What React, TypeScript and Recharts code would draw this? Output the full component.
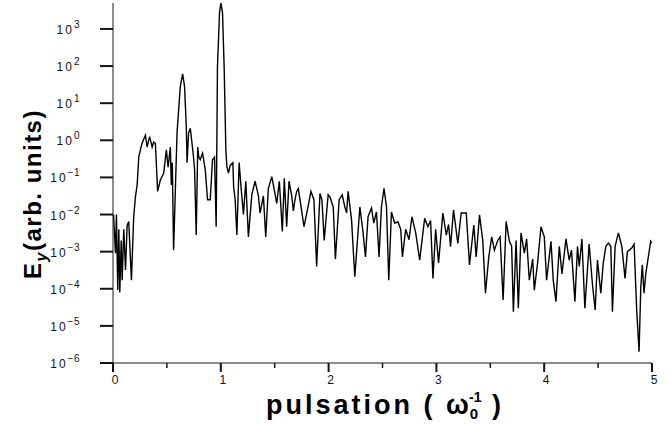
import React from 'react';
import { LineChart, Line, XAxis, YAxis } from 'recharts';

// pulsation (ω0^-1)
const freq = [
  0.005, 0.023, 0.032, 0.044, 0.054, 0.063, 0.076, 0.085, 0.100, 0.116,
  0.131, 0.146, 0.171, 0.192, 0.208, 0.224, 0.239, 0.254, 0.270, 0.301,
  0.316, 0.340, 0.363, 0.377, 0.393, 0.414, 0.439, 0.470, 0.495, 0.511,
  0.532, 0.541, 0.550, 0.562, 0.594, 0.624, 0.646, 0.664, 0.680, 0.687,
  0.701, 0.717, 0.733, 0.747, 0.757, 0.772, 0.786, 0.796, 0.809, 0.831,
  0.856, 0.877, 0.902, 0.923, 0.942, 0.957, 0.969, 0.988, 1.001, 1.016,
  1.031, 1.047, 1.056, 1.071, 1.087, 1.112, 1.119, 1.133, 1.149, 1.170,
  1.189, 1.210, 1.232, 1.256, 1.288, 1.318, 1.349, 1.364, 1.395, 1.417,
  1.441, 1.473, 1.494, 1.519, 1.543, 1.571, 1.589, 1.611, 1.633, 1.658,
  1.673, 1.688, 1.704, 1.719, 1.772, 1.809, 1.836, 1.864, 1.889, 1.920,
  1.938, 1.959, 1.996, 2.012, 2.043, 2.063, 2.098, 2.126, 2.151, 2.167,
  2.181, 2.213, 2.243, 2.290, 2.320, 2.342, 2.366, 2.398, 2.419, 2.444,
  2.468, 2.490, 2.514, 2.537, 2.558, 2.583, 2.613, 2.644, 2.669, 2.685,
  2.715, 2.746, 2.773, 2.808, 2.845, 2.891, 2.921, 2.946, 2.968, 2.993,
  3.020, 3.060, 3.092, 3.113, 3.131, 3.159, 3.199, 3.230, 3.277, 3.307,
  3.347, 3.369, 3.400, 3.430, 3.455, 3.486, 3.513, 3.538, 3.569, 3.591,
  3.619, 3.647, 3.677, 3.698, 3.714, 3.739, 3.760, 3.785, 3.816, 3.837,
  3.862, 3.893, 3.908, 3.939, 3.970, 4.001, 4.022, 4.063, 4.084, 4.109,
  4.140, 4.165, 4.202, 4.232, 4.253, 4.285, 4.309, 4.325, 4.350, 4.377,
  4.417, 4.448, 4.473, 4.494, 4.525, 4.547, 4.572, 4.596, 4.618, 4.633,
  4.658, 4.688, 4.720, 4.750, 4.772, 4.812, 4.834, 4.858, 4.880, 4.896,
  4.910, 4.926, 4.942, 4.988, 4.997,
];

// E_y (arb. units)
const ampl = [
  1.0e-2, 9.1e-4, 1.0e-2, 9.3e-5, 4.0e-3, 7.9e-5, 2.0e-3, 1.7e-4, 4.0e-3, 3.2e-4,
  5.0e-3, 6.5e-3, 1.7e-4, 8.7e-3, 3.0e-2, 6.3e-2, 0.35, 0.55, 0.83, 1.38,
  0.66, 1.26, 0.66, 0.89, 0.83, 0.042, 0.085, 0.13, 0.55, 0.19,
  0.66, 0.063, 0.25, 1.1e-3, 1.58, 27.5, 62, 27.5, 2.3, 0.25,
  1.58, 2.1, 0.83, 0.35, 0.16, 2.8e-3, 0.66, 0.35, 0.30, 0.45,
  0.16, 0.025, 0.025, 0.30, 0.35, 4.7e-3, 95, 2700, 5000, 2700,
  95, 0.55, 0.2, 0.13, 0.21, 0.25, 0.056, 0.025, 2.8e-3, 0.25,
  0.05, 0.01, 0.079, 2.5e-3, 0.035, 0.079, 0.032, 0.011, 0.032, 2.5e-3,
  0.05, 0.105, 0.05, 0.02, 0.079, 3.5e-3, 0.095, 4.7e-3, 0.079, 0.032,
  0.0126, 0.025, 0.042, 0.05, 4.7e-3, 0.016, 0.042, 0.025, 4.0e-4, 0.037,
  0.025, 2.0e-3, 0.034, 0.030, 0.016, 6.3e-4, 0.025, 0.034, 0.016, 0.011,
  0.042, 7.2e-3, 2.1e-4, 0.016, 3.2e-3, 7.2e-4, 8.7e-3, 0.015, 5.9e-3, 0.0117,
  7.2e-4, 0.016, 0.051, 0.016, 1.7e-4, 0.0117, 5.9e-3, 6.3e-3, 4.0e-3, 7.2e-4,
  4.0e-3, 2.1e-3, 8.7e-3, 3.2e-3, 5.9e-4, 7.9e-3, 4.7e-3, 6.9e-3, 1.9e-4, 4.0e-3,
  5.0e-4, 0.011, 2.8e-3, 5.4e-3, 1.35e-3, 0.0132, 1.66e-3, 0.011, 0.011, 4.4e-4,
  5.2e-3, 7.2e-4, 9.8e-3, 2.0e-3, 7.6e-5, 7.2e-4, 2.5e-3, 1.1e-3, 2.0e-3, 2.5e-3,
  5.0e-5, 6.5e-3, 1.9e-3, 1.4e-3, 2.4e-5, 2.0e-3, 3.0e-5, 3.2e-3, 9.1e-4, 2.2e-3,
  1.7e-4, 6.3e-4, 9.1e-5, 5.0e-4, 4.7e-3, 2.5e-3, 1.7e-4, 1.9e-3, 1.7e-4, 4.5e-5,
  1.4e-3, 2.5e-4, 2.2e-3, 5.9e-4, 1.1e-3, 4.5e-5, 1.4e-3, 4.0e-4, 2.2e-3, 3.0e-5,
  1.6e-3, 1.26e-4, 2.7e-5, 5.9e-4, 7.6e-5, 4.7e-4, 1.4e-3, 1.7e-3, 1.4e-3, 2.4e-5,
  1.4e-3, 3.2e-3, 1.4e-3, 1.9e-4, 1.0e-3, 1.26e-3, 1.6e-3, 2.7e-5, 2.0e-6, 1.1e-4,
  4.4e-4, 7.6e-5, 2.5e-4, 1.9e-3, 1.7e-3,
];

const xMajorTicks = [0, 1, 2, 3, 4, 5];
const xTicksAll = [0, 0.5, 1, 1.5, 2, 2.5, 3, 3.5, 4, 4.5, 5];
const yMajorTicks = [1e-6, 1e-5, 1e-4, 1e-3, 1e-2, 1e-1, 1, 10, 100, 1000];
const yExponents = ['−6', '−5', '−4', '−3', '−2', '−1', '0', '1', '2', '3'];
const yTicksAll = [1e-6, 4e-6, 1e-5, 4e-5, 1e-4, 4e-4, 1e-3, 4e-3, 1e-2, 4e-2, 0.1, 0.4, 1, 4, 10, 40, 100, 400, 1000];
const yDomain = [1e-6, 5000];

const data = freq.map((f, i) => ({ f, a: ampl[i] }));

const FONT = '"Liberation Sans", Arial, Helvetica, sans-serif';
const AXIS = '#1a1a1a';

const XTick = (props: any) => {
  const x = Number(props.x);
  const y = Number(props.y);
  const v = props.payload.value;
  const major = xMajorTicks.includes(v);
  return (
    <g>
      <rect x={x - (major ? 1 : 0.75)} y={y} width={major ? 2 : 1.5} height={major ? 9 : 5} fill="red" fillOpacity={0} />
      <rect x={x - (major ? 1 : 0.75)} y={y} width={major ? 2 : 1.5} height={major ? 9 : 5} fill="#151515" />
      {major && (
        <text x={x + 2} y={y + 21} textAnchor="middle" fontFamily={FONT} fontSize={12} fill="#111">
          {String(v)}
        </text>
      )}
    </g>
  );
};

const YTick = (props: any) => {
  const x = Number(props.x);
  const y = Number(props.y);
  const v = props.payload.value;
  const idx = yMajorTicks.findIndex((m) => Math.abs(m - v) / m < 1e-6);
  const major = idx >= 0;
  return (
    <g>
      <rect x={x - (major ? 13 : 7)} y={y - (major ? 1 : 0.75)} width={major ? 13 : 7} height={major ? 2 : 1.5} fill="#151515" />
      {major && (
        <text x={x - 33} y={y + 5} textAnchor="end" fontFamily={FONT} fontSize={12} fill="#111">
          <tspan letterSpacing={2}>10</tspan>
          <tspan dy={-6} fontSize={10} letterSpacing={0.5}>{yExponents[idx]}</tspan>
        </text>
      )}
    </g>
  );
};

const Titles = () => (
  <svg
    width={670}
    height={426}
    style={{ position: 'absolute', left: 0, top: 0, pointerEvents: 'none' }}
  >
    <text x={385} y={414} textAnchor="middle" fontFamily={FONT} fontWeight="bold" fontSize={27} letterSpacing={3} fill="#000">
      <tspan>pulsation ( ω</tspan>
      <tspan dx={-2} dy={5} fontSize={15} letterSpacing={0}>0</tspan>
      <tspan dx={-9} dy={-17} fontSize={14} letterSpacing={0}>-1</tspan>
      <tspan dy={12}>{' )'}</tspan>
    </text>
    <text
      x={41}
      y={194}
      transform="rotate(-90, 41, 194)"
      textAnchor="middle"
      fontFamily={FONT}
      fontWeight="bold"
      fontSize={24}
      letterSpacing={1.5}
      fill="#000"
    >
      <tspan>E</tspan>
      <tspan dy={6} fontSize={16} fontStyle="italic">y</tspan>
      <tspan dy={-6}>(arb. units)</tspan>
    </text>
  </svg>
);

export default function App() {
  return (
    <div style={{ position: 'absolute', left: 0, top: 0, width: 670, height: 426, background: '#fff' }}>
      <LineChart width={670} height={426} data={data} margin={{ top: 3, right: 18, bottom: 23, left: 0 }}>
        <XAxis
          dataKey="f"
          type="number"
          domain={[0, 5]}
          ticks={xTicksAll}
          tick={<XTick />}
          tickLine={false}
          tickSize={0}
          tickMargin={0}
          height={40}
          stroke={AXIS}
        />
        <YAxis
          type="number"
          scale="log"
          domain={yDomain}
          ticks={yTicksAll}
          tick={<YTick />}
          tickLine={false}
          tickSize={0}
          tickMargin={0}
          width={113}
          stroke={AXIS}
        />
        <Line
          type="linear"
          dataKey="a"
          stroke="#000"
          strokeWidth={1.4}
          dot={false}
          isAnimationActive={false}
        />
      </LineChart>
      <Titles />
    </div>
  );
}
